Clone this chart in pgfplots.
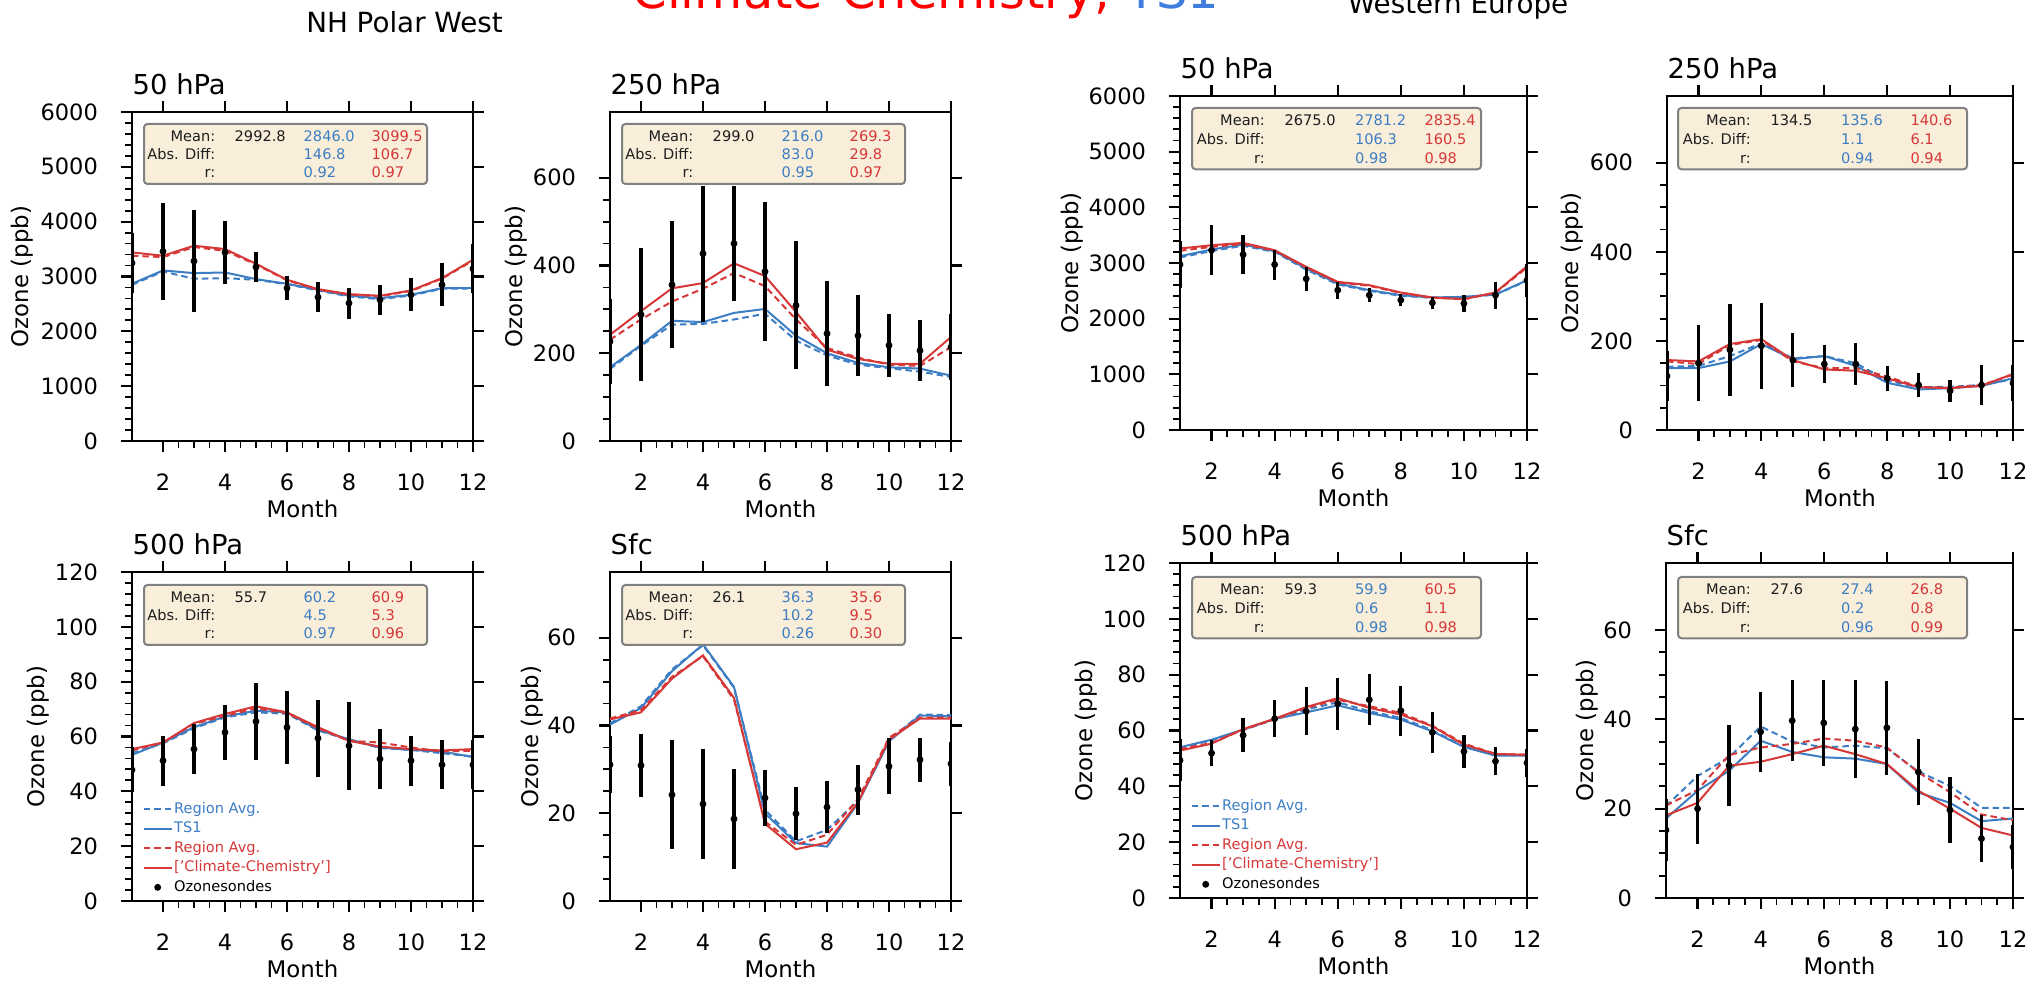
\documentclass[border=0pt]{standalone}
\usepackage{fontspec}
\setmainfont{DejaVu Sans}
\usepackage{pgfplots}
\pgfplotsset{compat=1.18}

\definecolor{tsblue}{RGB}{60,125,195}
\definecolor{ccred}{RGB}{214,55,55}
\definecolor{titleblue}{RGB}{65,125,220}
\definecolor{boxfill}{RGB}{248,238,218}
\definecolor{boxedge}{RGB}{128,128,128}
\definecolor{labgray}{RGB}{30,30,30}

\pgfplotsset{
  legend image code/.code={\draw[mark repeat=2,mark phase=2,#1] plot coordinates {(0mm,0mm) (1.4mm,0mm) (2.8mm,0mm)};},
  panel/.style={
    anchor=south west, scale only axis,
    xmin=1, xmax=12, ymin=0,
    xtick={2,4,...,12}, minor x tick num=3,
    tick align=outside, xtick pos=left, ytick pos=left,
    major tick length=1.07mm, minor tick length=0.67mm,
    major tick style={line width=0.22mm, black},
    minor tick style={line width=0.18mm, black},
    axis line style={line width=0.27mm},
    tick label style={font=\fontsize{6.4}{7.5}\selectfont},
    xticklabel style={yshift=-1.0mm},
    yticklabel style={xshift=-1.1mm},
    /pgf/number format/assume math mode=true,
    /pgf/number format/1000 sep={},
    label style={font=\fontsize{6.5}{7.5}\selectfont},
    xlabel={Month}, ylabel={Ozone (ppb)},
    xlabel style={at={(axis description cs:0.5,0)}, anchor=base, yshift=-7.7mm},
    every axis title shift=0pt,
    title style={font=\fontsize{7.8}{9}\selectfont, at={(0,1)}, anchor=base west, inner sep=0pt, yshift=1.7mm},
    clip marker paths=true,
  },
  % y label baseline at a fixed distance left of the axis
  ylab/.style={ylabel style={at={(axis description cs:0,0.5)}, anchor=base, yshift=#1}},
  blued/.style={color=tsblue, line width=0.2mm, dash pattern=on 0.65mm off 0.4mm, mark=none},
  blues/.style={color=tsblue, line width=0.2mm, mark=none},
  redd/.style={color=ccred, line width=0.2mm, dash pattern=on 0.65mm off 0.4mm, mark=none},
  reds/.style={color=ccred, line width=0.2mm, mark=none},
  sonde/.style={only marks, mark=*, mark size=0.27mm, black,
    error bars/y dir=both, error bars/y explicit, error bars/error mark=none,
    error bars/error bar style={line width=0.33mm, black}},
  panellegend/.style={
    legend style={at={(0,0)}, anchor=south west, xshift=1mm, yshift=0.45mm,
      draw=none, fill=none, inner sep=0pt, row sep=0.75pt,
      font=\fontsize{4.15}{5}\selectfont,
      nodes={inner sep=0.4pt, text height=3.1pt, text depth=0.9pt}},
    legend cell align=left},
}

% major ticks on the top and right sides, no labels
\newcommand{\frameaxis}[5]{%
\begin{axis}[anchor=south west, scale only axis, at={#1}, width=#2, height=#3,
  xmin=1, xmax=12, ymin=0, ymax=#4, xtick={2,4,...,12}, ytick={#5},
  xtick pos=right, ytick pos=right, tick align=outside,
  xticklabels={}, yticklabels={}, major tick length=1.07mm,
  major tick style={line width=0.22mm, black}, minor tick num=0,
  axis line style={draw=none}]
\end{axis}}

% statistics box, position in reference pixels (top left), width in pixels
\newcommand{\statbox}[9]{%
\begin{scope}[shift={(#1)}]
\pgfmathsetmacro{\bs}{#2/283}
\draw[boxedge, line width=0.2mm, fill=boxfill, rounded corners=0.35mm] (0,0) rectangle (#2,{60*\bs});
\begin{scope}[every node/.style={inner sep=0pt, font=\fontsize{4.15}{5}\selectfont}]
\node[anchor=base east, text=labgray] at ({72*\bs},{17.5*\bs}) {Mean:};
\node[anchor=base east, text=labgray] at ({72*\bs},{36*\bs}) {Abs. Diff:};
\node[anchor=base east, text=labgray] at ({72*\bs},{54*\bs}) {r:};
\node[anchor=base west, text=labgray] at ({90*\bs},{17.5*\bs}) {#3};
\node[anchor=base west, text=tsblue] at ({159*\bs},{17.5*\bs}) {#4};
\node[anchor=base west, text=ccred] at ({227*\bs},{17.5*\bs}) {#5};
\node[anchor=base west, text=tsblue] at ({159*\bs},{36*\bs}) {#6};
\node[anchor=base west, text=ccred] at ({227*\bs},{36*\bs}) {#7};
\node[anchor=base west, text=tsblue] at ({159*\bs},{54*\bs}) {#8};
\node[anchor=base west, text=ccred] at ({227*\bs},{54*\bs}) {#9};
\end{scope}
\end{scope}}

\begin{document}
\begin{tikzpicture}

% ---------------- NH Polar West, 50 hPa
\begin{axis}[panel, ylab=10.35mm, at={(13.2mm,54.1mm)}, width=34.1mm, height=32.9mm,
  ymax=6000, ytick={0,1000,...,6000}, minor y tick num=4, title={50 hPa}]
\addplot[blued] coordinates {(1,2848) (2,3092) (3,2958) (4,2970) (5,2940) (6,2860) (7,2745) (8,2636) (9,2587) (10,2654) (11,2776) (12,2782)};
\addplot[blues] coordinates {(1,2867) (2,3110) (3,3061) (4,3073) (5,2952) (6,2867) (7,2757) (8,2648) (9,2605) (10,2666) (11,2788) (12,2788)};
\addplot[redd] coordinates {(1,3378) (2,3354) (3,3536) (4,3469) (5,3220) (6,2930) (7,2760) (8,2670) (9,2640) (10,2735) (11,2960) (12,3290)};
\addplot[reds] coordinates {(1,3439) (2,3378) (3,3561) (4,3500) (5,3232) (6,2940) (7,2769) (8,2678) (9,2648) (10,2745) (11,2970) (12,3305)};
\addplot[sonde] coordinates {(1,3244) +- (0,550) (2,3457) +- (0,880) (3,3281) +- (0,930) (4,3439) +- (0,575) (5,3171) +- (0,280) (6,2788) +- (0,220) (7,2623) +- (0,275) (8,2514) +- (0,285) (9,2575) +- (0,270) (10,2666) +- (0,300) (11,2848) +- (0,395) (12,3141) +- (0,450)};
\end{axis}
\frameaxis{(13.2mm,54.1mm)}{34.1mm}{32.9mm}{6000}{0,1000,...,6000}

% ---------------- NH Polar West, 250 hPa
\begin{axis}[panel, ylab=8.75mm, at={(61.0mm,54.1mm)}, width=34.1mm, height=32.9mm,
  ymax=750, ytick={0,200,400,600}, minor y tick num=3, title={250 hPa}]
\addplot[blued] coordinates {(1,164) (2,217) (3,265) (4,267) (5,277) (6,290) (7,229) (8,195) (9,174) (10,166) (11,158) (12,146)};
\addplot[blues] coordinates {(1,168) (2,219) (3,274) (4,271) (5,292) (6,301) (7,240) (8,200) (9,178) (10,168) (11,165) (12,149)};
\addplot[redd] coordinates {(1,231) (2,277) (3,318) (4,347) (5,383) (6,353) (7,277) (8,212) (9,190) (10,174) (11,171) (12,214)};
\addplot[reds] coordinates {(1,242) (2,296) (3,348) (4,360) (5,405) (6,376) (7,294) (8,208) (9,187) (10,176) (11,176) (12,237)};
\addplot[sonde] coordinates {(1,227) +- (0,97) (2,288) +- (0,151) (3,356) +- (0,145) (4,427) +- (0,155) (5,450) +- (0,131) (6,386) +- (0,158) (7,309) +- (0,146) (8,245) +- (0,120) (9,240) +- (0,92) (10,218) +- (0,72) (11,206) +- (0,70) (12,214) +- (0,75)};
\end{axis}
\frameaxis{(61.0mm,54.1mm)}{34.1mm}{32.9mm}{750}{0,200,400,600}

% ---------------- Western Europe, 50 hPa
\begin{axis}[panel, ylab=10.2mm, at={(118.0mm,55.2mm)}, width=34.7mm, height=33.4mm,
  ymax=6000, ytick={0,1000,...,6000}, minor y tick num=4, title={50 hPa}]
\addplot[blued] coordinates {(1,3100) (2,3215) (3,3310) (4,3200) (5,2880) (6,2615) (7,2500) (8,2410) (9,2375) (10,2390) (11,2430) (12,2680)};
\addplot[blues] coordinates {(1,3122) (2,3242) (3,3331) (4,3212) (5,2901) (6,2632) (7,2512) (8,2422) (9,2380) (10,2392) (11,2434) (12,2691)};
\addplot[redd] coordinates {(1,3220) (2,3290) (3,3340) (4,3220) (5,2920) (6,2650) (7,2590) (8,2460) (9,2375) (10,2350) (11,2465) (12,2920)};
\addplot[reds] coordinates {(1,3260) (2,3319) (3,3361) (4,3230) (5,2931) (6,2661) (7,2602) (8,2470) (9,2380) (10,2350) (11,2470) (12,2943)};
\addplot[sonde] coordinates {(1,2972) +- (0,420) (2,3230) +- (0,450) (3,3152) +- (0,355) (4,2972) +- (0,270) (5,2715) +- (0,215) (6,2512) +- (0,150) (7,2422) +- (0,130) (8,2333) +- (0,105) (9,2285) +- (0,108) (10,2273) +- (0,150) (11,2422) +- (0,240) (12,2690) +- (0,300)};
\end{axis}
\frameaxis{(118.0mm,55.2mm)}{34.7mm}{33.4mm}{6000}{0,1000,...,6000}

% ---------------- Western Europe, 250 hPa
\begin{axis}[panel, ylab=8.9mm, at={(166.7mm,55.2mm)}, width=34.6mm, height=33.4mm,
  ymax=750, ytick={0,200,400,600}, minor y tick num=3, title={250 hPa}]
\addplot[blued] coordinates {(1,142) (2,144) (3,166) (4,195) (5,161) (6,166) (7,150) (8,111) (9,96) (10,97) (11,101) (12,114)};
\addplot[blues] coordinates {(1,139) (2,139) (3,154) (4,193) (5,159) (6,166) (7,144) (8,106) (9,91) (10,94) (11,99) (12,116)};
\addplot[redd] coordinates {(1,154) (2,148) (3,191) (4,202) (5,154) (6,139) (7,139) (8,120) (9,97) (10,95) (11,101) (12,124)};
\addplot[reds] coordinates {(1,157) (2,154) (3,193) (4,204) (5,157) (6,136) (7,133) (8,116) (9,96) (10,94) (11,99) (12,126)};
\addplot[sonde] coordinates {(1,121) +- (0,57) (2,150) +- (0,85) (3,180) +- (0,104) (4,189) +- (0,96) (5,157) +- (0,60) (6,148) +- (0,42) (7,148) +- (0,48) (8,116) +- (0,28) (9,101) +- (0,27) (10,88) +- (0,25) (11,101) +- (0,46) (12,105) +- (0,40)};
\end{axis}
\frameaxis{(166.7mm,55.2mm)}{34.6mm}{33.4mm}{750}{0,200,400,600}

% ---------------- NH Polar West, 500 hPa
\begin{axis}[panel, panellegend, ylab=8.7mm, at={(13.2mm,8.1mm)}, width=34.1mm, height=32.9mm,
  ymax=120, ytick={0,20,...,120}, minor y tick num=4, title={500 hPa}]
\addplot[blued] coordinates {(1,53.9) (2,57.5) (3,63.0) (4,67.0) (5,68.8) (6,68.3) (7,62.2) (8,58.8) (9,55.8) (10,55.1) (11,53.9) (12,52.7)};
\addlegendentry{\textcolor{tsblue}{Region Avg.}}
\addplot[blues] coordinates {(1,53.3) (2,57.8) (3,63.4) (4,67.3) (5,69.4) (6,68.8) (7,62.4) (8,59.0) (9,56.0) (10,55.1) (11,54.5) (12,52.5)};
\addlegendentry{\textcolor{tsblue}{TS1}}
\addplot[redd] coordinates {(1,54.9) (2,57.8) (3,64.6) (4,67.5) (5,70.3) (6,68.5) (7,63.0) (8,58.4) (9,57.8) (10,56.0) (11,54.5) (12,54.8)};
\addlegendentry{\textcolor{ccred}{Region Avg.}}
\addplot[reds] coordinates {(1,55.4) (2,57.8) (3,64.9) (4,68.2) (5,71.0) (6,68.8) (7,63.4) (8,58.4) (9,56.3) (10,55.4) (11,54.9) (12,55.4)};
\addlegendentry{\textcolor{ccred}{['Climate-Chemistry']}}
\addplot[sonde] coordinates {(1,47.8) +- (0,8.2) (2,51.2) +- (0,9.1) (3,55.4) +- (0,9.1) (4,61.5) +- (0,10) (5,65.5) +- (0,13.9) (6,63.3) +- (0,13.3) (7,59.4) +- (0,14) (8,56.6) +- (0,16.1) (9,51.8) +- (0,11) (10,51.2) +- (0,9.1) (11,49.7) +- (0,9) (12,49.7) +- (0,9)};
\addlegendentry{Ozonesondes}
\end{axis}
\frameaxis{(13.2mm,8.1mm)}{34.1mm}{32.9mm}{120}{0,20,...,120}

% ---------------- NH Polar West, surface
\begin{axis}[panel, ylab=7.2mm, at={(61.0mm,8.1mm)}, width=34.1mm, height=32.9mm,
  ymax=75, ytick={0,20,40,60}, minor y tick num=3, title={Sfc}]
\addplot[blued] coordinates {(1,40.5) (2,44.4) (3,52.8) (4,58.3) (5,48.6) (6,20.8) (7,13.6) (8,16.2) (9,22.9) (10,36.6) (11,42.5) (12,42.4)};
\addplot[blues] coordinates {(1,40.2) (2,44.0) (3,52.4) (4,58.5) (5,48.8) (6,20.0) (7,13.2) (8,12.4) (9,22.3) (10,36.4) (11,42.3) (12,42.1)};
\addplot[redd] coordinates {(1,41.6) (2,43.5) (3,51.1) (4,55.8) (5,45.9) (6,18.1) (7,12.8) (8,15.1) (9,23.2) (10,37.2) (11,41.8) (12,41.8)};
\addplot[reds] coordinates {(1,41.4) (2,43.0) (3,50.7) (4,56.0) (5,46.3) (6,17.6) (7,11.8) (8,13.3) (9,22.5) (10,36.8) (11,41.6) (12,41.6)};
\addplot[sonde] coordinates {(1,31.1) +- (0,6.4) (2,30.9) +- (0,7.2) (3,24.2) +- (0,12.4) (4,22.1) +- (0,12.5) (5,18.7) +- (0,11.3) (6,23.5) +- (0,6.3) (7,19.9) +- (0,6) (8,21.4) +- (0,6) (9,25.4) +- (0,5.7) (10,30.7) +- (0,6.4) (11,32.2) +- (0,5) (12,31.3) +- (0,5)};
\end{axis}
\frameaxis{(61.0mm,8.1mm)}{34.1mm}{32.9mm}{75}{0,20,40,60}

% ---------------- Western Europe, 500 hPa
\begin{axis}[panel, panellegend, ylab=8.8mm, at={(118.0mm,8.4mm)}, width=34.7mm, height=33.5mm,
  ymax=120, ytick={0,20,...,120}, minor y tick num=4, title={500 hPa}]
\addplot[blued] coordinates {(1,53.7) (2,56.5) (3,60.1) (4,64.1) (5,67.5) (6,70.1) (7,66.9) (8,64.5) (9,60.1) (10,54.2) (11,51.2) (12,51.2)};
\addlegendentry{\textcolor{tsblue}{Region Avg.}}
\addplot[blues] coordinates {(1,54.0) (2,56.7) (3,60.3) (4,64.1) (5,66.5) (6,69.0) (7,66.3) (8,63.9) (9,59.7) (10,54.1) (11,51.0) (12,51.0)};
\addlegendentry{\textcolor{tsblue}{TS1}}
\addplot[redd] coordinates {(1,53.4) (2,55.5) (3,60.3) (4,64.0) (5,68.1) (6,71.0) (7,68.7) (8,66.3) (9,61.7) (10,55.3) (11,51.6) (12,51.3)};
\addlegendentry{\textcolor{ccred}{Region Avg.}}
\addplot[reds] coordinates {(1,52.8) (2,55.3) (3,60.5) (4,64.2) (5,68.4) (6,71.6) (7,68.1) (8,65.7) (9,61.5) (10,54.9) (11,51.6) (12,51.3)};
\addlegendentry{\textcolor{ccred}{['Climate-Chemistry']}}
\addplot[sonde] coordinates {(1,49.3) +- (0,7.5) (2,51.9) +- (0,4.7) (3,58.3) +- (0,6) (4,64.2) +- (0,6.7) (5,66.9) +- (0,8.5) (6,69.6) +- (0,9.3) (7,71.0) +- (0,9.2) (8,67.1) +- (0,9) (9,59.3) +- (0,7.2) (10,52.5) +- (0,6) (11,49.0) +- (0,5) (12,48.4) +- (0,5)};
\addlegendentry{Ozonesondes}
\end{axis}
\frameaxis{(118.0mm,8.4mm)}{34.7mm}{33.5mm}{120}{0,20,...,120}

% ---------------- Western Europe, surface
\begin{axis}[panel, ylab=7.3mm, at={(166.6mm,8.4mm)}, width=34.7mm, height=33.5mm,
  ymax=75, ytick={0,20,40,60}, minor y tick num=3, title={Sfc}]
\addplot[blued] coordinates {(1,20.6) (2,27.3) (3,31.5) (4,38.4) (5,35.0) (6,33.7) (7,34.1) (8,33.5) (9,28.3) (10,25.1) (11,20.2) (12,20.2)};
\addplot[blues] coordinates {(1,17.8) (2,24.0) (3,28.5) (4,35.2) (5,32.7) (6,31.5) (7,31.2) (8,30.0) (9,23.6) (10,21.3) (11,17.2) (12,17.8)};
\addplot[redd] coordinates {(1,20.7) (2,24.2) (3,32.0) (4,33.7) (5,34.5) (6,35.7) (7,35.2) (8,33.7) (9,28.1) (10,23.7) (11,18.7) (12,17.4)};
\addplot[reds] coordinates {(1,18.5) (2,21.3) (3,29.6) (4,30.5) (5,32.2) (6,34.1) (7,32.2) (8,30.0) (9,24.0) (10,20.0) (11,15.7) (12,14.0)};
\addplot[sonde] coordinates {(1,15.2) +- (0,7) (2,20.0) +- (0,7.8) (3,29.7) +- (0,9) (4,37.2) +- (0,9) (5,39.7) +- (0,9.1) (6,39.2) +- (0,9.7) (7,37.8) +- (0,10.9) (8,38.1) +- (0,10.5) (9,28.2) +- (0,7.4) (10,19.7) +- (0,7.4) (11,13.3) +- (0,5.3) (12,11.4) +- (0,5)};
\end{axis}
\frameaxis{(166.6mm,8.4mm)}{34.7mm}{33.5mm}{75}{0,20,40,60}

% ---------------- titles and statistics boxes, in reference pixels (y down)
\begin{scope}[x=0.1mm, y=-0.1mm, yshift=98.2mm]
\node[anchor=base, inner sep=0pt, font=\fontsize{14.1}{16}\selectfont] at (926,9)
  {\textcolor{red}{Climate-Chemistry,} \textcolor{titleblue}{TS1}};
\node[anchor=base, inner sep=0pt, font=\fontsize{7.9}{9}\selectfont] at (404.5,33) {NH Polar West};
\node[anchor=base, inner sep=0pt, font=\fontsize{7.9}{9}\selectfont] at (1458,14) {Western Europe};
\statbox{144,124}{283}{2992.8}{2846.0}{3099.5}{146.8}{106.7}{0.92}{0.97}
\statbox{622,124}{283}{299.0}{216.0}{269.3}{83.0}{29.8}{0.95}{0.97}
\statbox{1192,108}{289}{2675.0}{2781.2}{2835.4}{106.3}{160.5}{0.98}{0.98}
\statbox{1678,108}{289}{134.5}{135.6}{140.6}{1.1}{6.1}{0.94}{0.94}
\statbox{144,585}{283}{55.7}{60.2}{60.9}{4.5}{5.3}{0.97}{0.96}
\statbox{622,585}{283}{26.1}{36.3}{35.6}{10.2}{9.5}{0.26}{0.30}
\statbox{1192,577}{289}{59.3}{59.9}{60.5}{0.6}{1.1}{0.98}{0.98}
\statbox{1678,577}{289}{27.6}{27.4}{26.8}{0.2}{0.8}{0.96}{0.99}
\end{scope}

\pgfresetboundingbox
\path[use as bounding box] (0,0) rectangle (202.7mm,98.2mm);
\end{tikzpicture}
\end{document}
